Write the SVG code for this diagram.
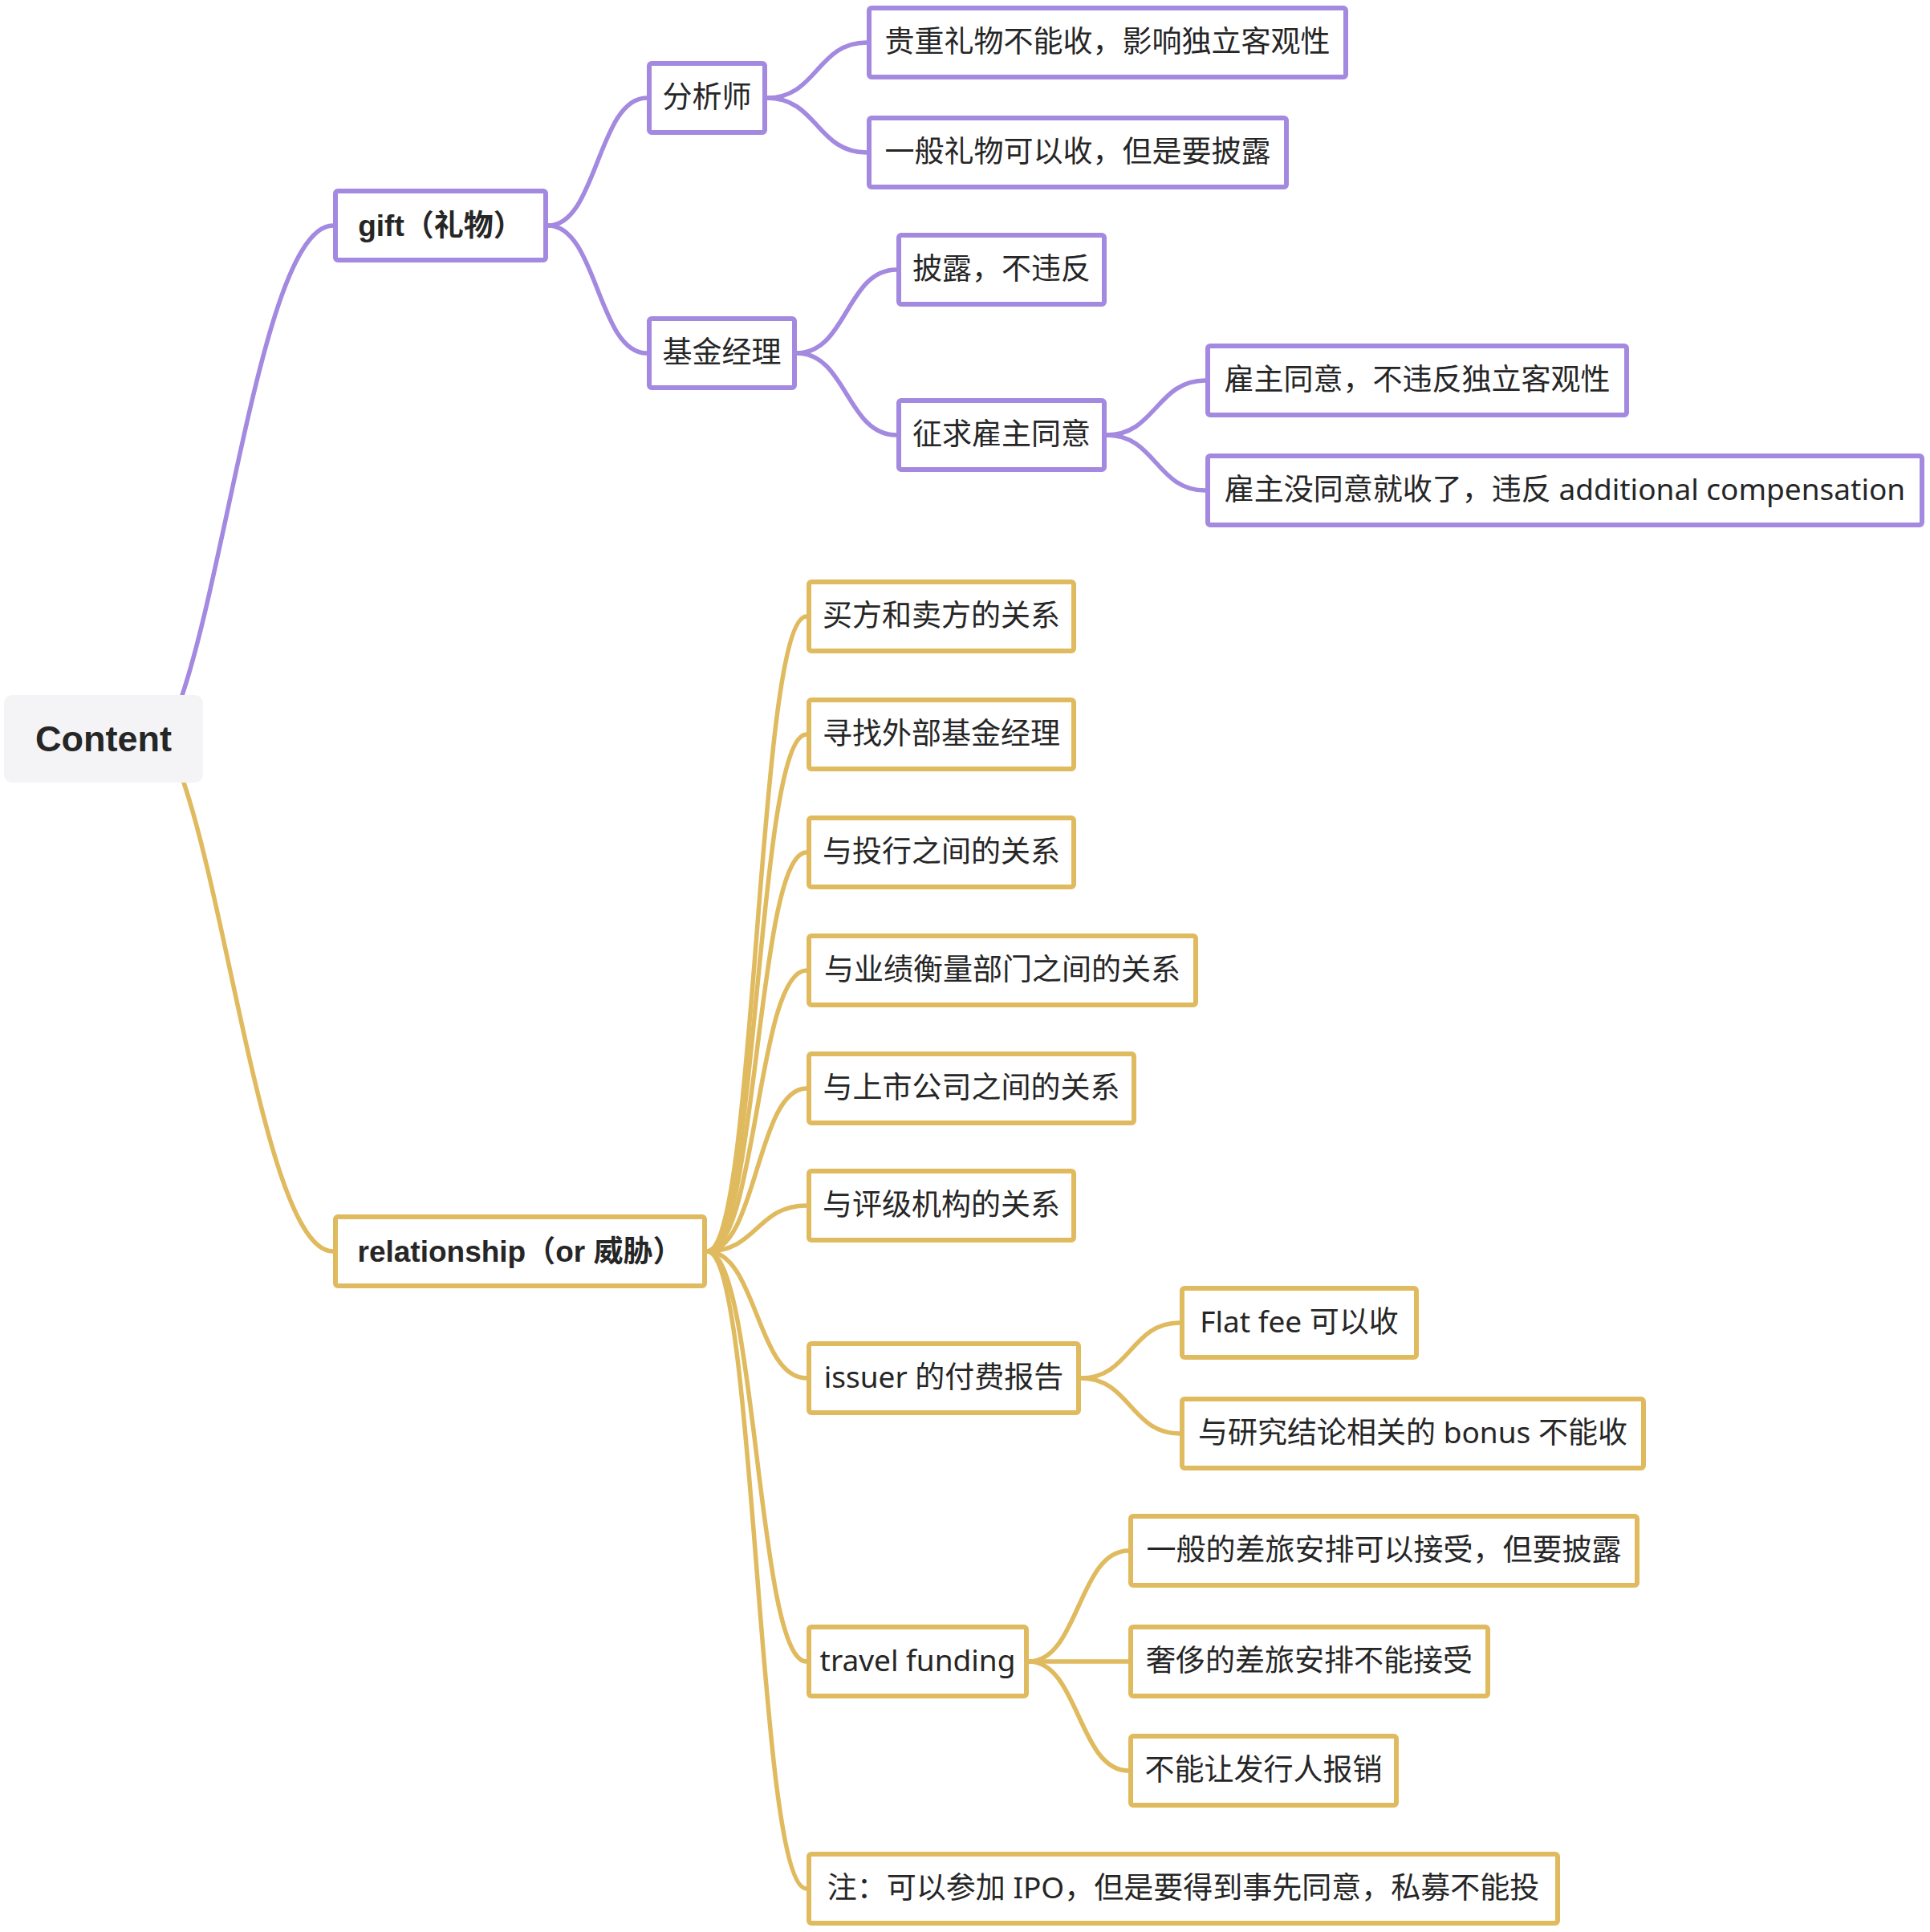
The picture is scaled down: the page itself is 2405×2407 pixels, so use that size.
<svg xmlns="http://www.w3.org/2000/svg" width="2405" height="2407" viewBox="0 0 2405 2407">
<style>
.bg{fill:#ffffff}
.c{fill:none;stroke-width:5.5;stroke-linecap:round}
.cp{stroke:#A389DF}
.cg{stroke:#E0BA5E}
.np{fill:#ffffff;stroke:#A389DF;stroke-width:6}
.ng{fill:#ffffff;stroke:#E0BA5E;stroke-width:6}
.t{font-family:"Noto Sans","Noto Sans CJK SC",sans-serif;font-size:37px;fill:#262626;text-anchor:middle;dominant-baseline:central}
.b{font-family:"Liberation Sans","Noto Sans CJK SC",sans-serif;font-weight:bold}
.root{fill:#F4F4F6}
.rt{font-family:"Liberation Sans","Noto Sans CJK SC",sans-serif;font-size:45px;font-weight:bold;fill:#262626;text-anchor:middle;dominant-baseline:central}
</style>
<rect class="bg" x="0" y="0" width="2405" height="2407"/>
<g id="connectors">
<path class="c cp" d="M 227 866 C 286 690 332 281 415 281"/>
<path class="c cp" d="M 683 281 C 744 281 745 122 806 122"/>
<path class="c cp" d="M 683 281 C 744 281 745 440 806 440"/>
<path class="c cp" d="M 956 122 C 1018 122 1018 53 1080 53"/>
<path class="c cp" d="M 956 122 C 1018 122 1018 190 1080 190"/>
<path class="c cp" d="M 993 440 C 1055 440 1055 336 1117 336"/>
<path class="c cp" d="M 993 440 C 1055 440 1055 542 1117 542"/>
<path class="c cp" d="M 1379 542 C 1440 542 1441 474 1502 474"/>
<path class="c cp" d="M 1379 542 C 1440 542 1441 611 1502 611"/>
<path class="c cg" d="M 229 975 C 288 1150 335 1559 415 1559"/>
<path class="c cg" d="M 881 1559 C 943 1559 943 768 1005 768"/>
<path class="c cg" d="M 881 1559 C 943 1559 943 915 1005 915"/>
<path class="c cg" d="M 881 1559 C 943 1559 943 1062 1005 1062"/>
<path class="c cg" d="M 881 1559 C 943 1559 943 1209 1005 1209"/>
<path class="c cg" d="M 881 1559 C 943 1559 943 1356 1005 1356"/>
<path class="c cg" d="M 881 1559 C 943 1559 943 1502 1005 1502"/>
<path class="c cg" d="M 881 1559 C 943 1559 943 1717 1005 1717"/>
<path class="c cg" d="M 881 1559 C 943 1559 943 2070 1005 2070"/>
<path class="c cg" d="M 881 1559 C 943 1559 943 2353 1005 2353"/>
<path class="c cg" d="M 1347 1717 C 1408 1717 1409 1648 1470 1648"/>
<path class="c cg" d="M 1347 1717 C 1408 1717 1409 1786 1470 1786"/>
<path class="c cg" d="M 1282 2070 C 1344 2070 1344 1932 1406 1932"/>
<path class="c cg" d="M 1282 2070 C 1344 2070 1344 2070 1406 2070"/>
<path class="c cg" d="M 1282 2070 C 1344 2070 1344 2206 1406 2206"/>
</g>
<g id="n-content"><rect class="root" x="5" y="866" width="248" height="109" rx="10"/><text class="rt" x="129" y="920">Content</text></g>
<g id="n-gift"><rect class="np" x="418" y="238" width="262" height="86" rx="3"/><text class="t b" x="549" y="281">gift（礼物）</text></g>
<g id="n-analyst"><rect class="np" x="809" y="79" width="144" height="86" rx="3"/><text class="t" x="881" y="119">分析师</text></g>
<g id="n-fm"><rect class="np" x="809" y="397" width="181" height="86" rx="3"/><text class="t" x="899.5" y="437">基金经理</text></g>
<g id="n-a1"><rect class="np" x="1083" y="10" width="594" height="86" rx="3"/><text class="t" x="1380" y="50">贵重礼物不能收，影响独立客观性</text></g>
<g id="n-a2"><rect class="np" x="1083" y="147" width="520" height="86" rx="3"/><text class="t" x="1343" y="187">一般礼物可以收，但是要披露</text></g>
<g id="n-f1"><rect class="np" x="1120" y="293" width="256" height="86" rx="3"/><text class="t" x="1248" y="333">披露，不违反</text></g>
<g id="n-f2"><rect class="np" x="1120" y="499" width="256" height="86" rx="3"/><text class="t" x="1248" y="539">征求雇主同意</text></g>
<g id="n-f21"><rect class="np" x="1505" y="431" width="522" height="86" rx="3"/><text class="t" x="1766" y="471">雇主同意，不违反独立客观性</text></g>
<g id="n-f22"><rect class="np" x="1505" y="568" width="890" height="86" rx="3"/><text class="t" x="1950" y="608">雇主没同意就收了，违反 additional compensation</text></g>
<g id="n-rel"><rect class="ng" x="418" y="1516" width="460" height="86" rx="3"/><text class="t b" x="648" y="1559">relationship（or 威胁）</text></g>
<g id="n-r1"><rect class="ng" x="1008" y="725" width="330" height="86" rx="3"/><text class="t" x="1173" y="765">买方和卖方的关系</text></g>
<g id="n-r2"><rect class="ng" x="1008" y="872" width="330" height="86" rx="3"/><text class="t" x="1173" y="912">寻找外部基金经理</text></g>
<g id="n-r3"><rect class="ng" x="1008" y="1019" width="330" height="86" rx="3"/><text class="t" x="1173" y="1059">与投行之间的关系</text></g>
<g id="n-r4"><rect class="ng" x="1008" y="1166" width="482" height="86" rx="3"/><text class="t" x="1249" y="1206">与业绩衡量部门之间的关系</text></g>
<g id="n-r5"><rect class="ng" x="1008" y="1313" width="405" height="86" rx="3"/><text class="t" x="1210.5" y="1353">与上市公司之间的关系</text></g>
<g id="n-r6"><rect class="ng" x="1008" y="1459" width="330" height="86" rx="3"/><text class="t" x="1173" y="1499">与评级机构的关系</text></g>
<g id="n-r7"><rect class="ng" x="1008" y="1674" width="336" height="86" rx="3"/><text class="t" x="1176" y="1714">issuer 的付费报告</text></g>
<g id="n-r71"><rect class="ng" x="1473" y="1605" width="292" height="86" rx="3"/><text class="t" x="1619" y="1645">Flat fee 可以收</text></g>
<g id="n-r72"><rect class="ng" x="1473" y="1743" width="575" height="86" rx="3"/><text class="t" x="1760.5" y="1783">与研究结论相关的 bonus 不能收</text></g>
<g id="n-r8"><rect class="ng" x="1008" y="2027" width="271" height="86" rx="3"/><text class="t" x="1143.5" y="2067">travel funding</text></g>
<g id="n-r81"><rect class="ng" x="1409" y="1889" width="631" height="86" rx="3"/><text class="t" x="1724.5" y="1929">一般的差旅安排可以接受，但要披露</text></g>
<g id="n-r82"><rect class="ng" x="1409" y="2027" width="445" height="86" rx="3"/><text class="t" x="1631.5" y="2067">奢侈的差旅安排不能接受</text></g>
<g id="n-r83"><rect class="ng" x="1409" y="2163" width="331" height="86" rx="3"/><text class="t" x="1574.5" y="2203">不能让发行人报销</text></g>
<g id="n-r9"><rect class="ng" x="1008" y="2310" width="933" height="86" rx="3"/><text class="t" x="1474.5" y="2350">注：可以参加 IPO，但是要得到事先同意，私募不能投</text></g>
</svg>
